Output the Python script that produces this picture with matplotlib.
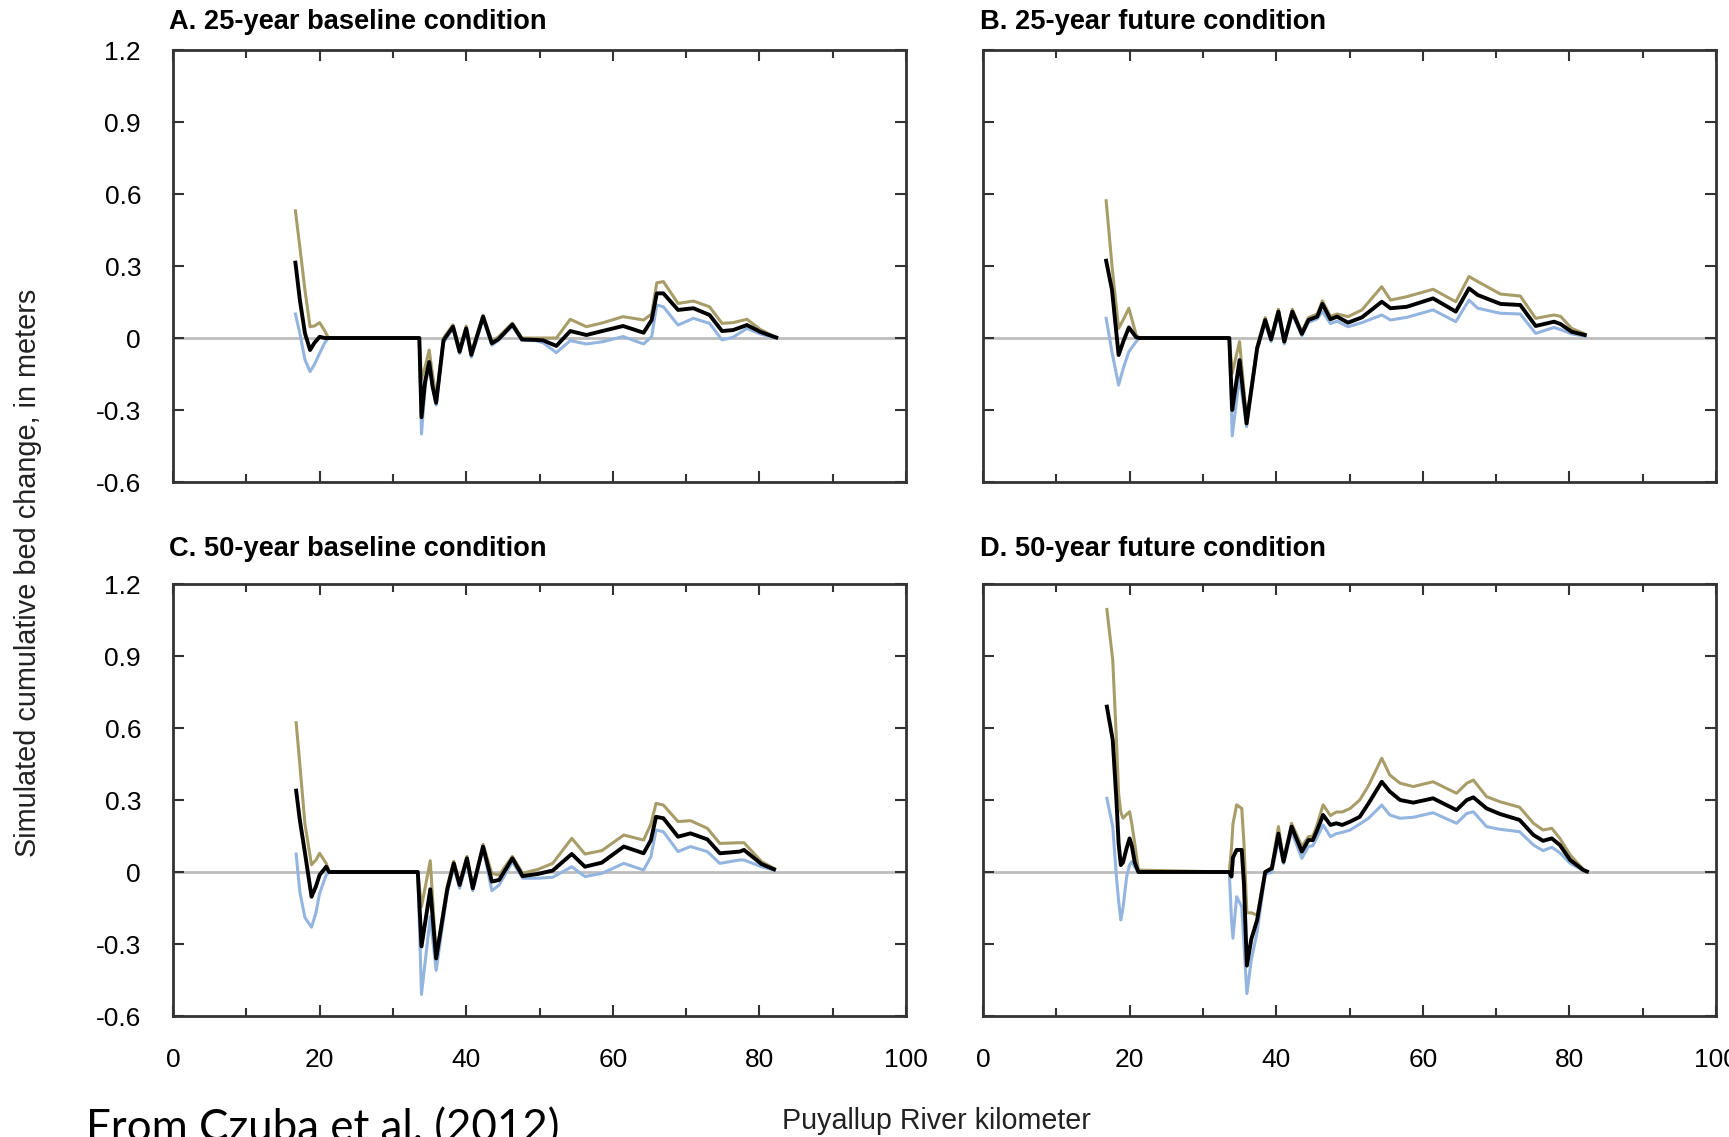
import matplotlib
matplotlib.use("Agg")
import matplotlib.pyplot as plt

plt.rcParams['font.family'] = ['Liberation Sans', 'DejaVu Sans']

# ---- data (river km, bed change in m) ----
km_a = [16.7, 17.3, 18.0, 18.7, 19.3, 20.0, 20.7, 21.2, 33.6, 33.9, 34.4, 34.95, 35.4, 35.9,
        36.9, 38.2, 39.1, 40.0, 40.7, 42.3, 43.5, 44.4, 46.3, 47.6, 49.5, 50.5, 52.3, 54.2,
        56.4, 58.7, 61.4, 64.2, 65.3, 66.0, 66.9, 68.9, 71.0, 73.2, 74.9, 76.4, 78.3, 80.1,
        81.9, 82.3]
gold_a = [0.53, 0.38, 0.2, 0.047, 0.05, 0.064, 0.03, 0.0, 0.0, -0.17, -0.12, -0.05, -0.15, -0.25,
          0.0, 0.055, -0.045, 0.05, -0.06, 0.095, -0.015, 0.005, 0.062, 0.0, 0.0, 0.0, 0.0, 0.078,
          0.047, 0.064, 0.089, 0.075, 0.1, 0.23, 0.235, 0.144, 0.154, 0.13, 0.061, 0.064, 0.078, 0.036,
          0.008, 0.003]
black_a = [0.314, 0.16, 0.02, -0.05, -0.02, 0.005, 0.0, 0.0, 0.0, -0.33, -0.18, -0.1, -0.2, -0.27,
           -0.01, 0.047, -0.057, 0.04, -0.07, 0.089, -0.022, -0.005, 0.056, -0.006, -0.008, -0.01, -0.033, 0.029,
           0.0125, 0.03, 0.05, 0.022, 0.075, 0.186, 0.186, 0.117, 0.124, 0.096, 0.029, 0.033, 0.054, 0.026,
           0.006, 0.002]
blue_a = [0.10, 0.02, -0.09, -0.14, -0.11, -0.064, -0.02, 0.0, 0.0, -0.40, -0.2, -0.11, -0.2, -0.28,
          -0.02, 0.04, -0.065, 0.035, -0.08, 0.08, -0.03, -0.01, 0.05, -0.01, -0.011, -0.02, -0.061, -0.011,
          -0.025, -0.015, 0.006, -0.025, 0.006, 0.1375, 0.13, 0.054, 0.082, 0.061, -0.008, 0.003, 0.04, 0.017,
          0.003, 0.001]

km_b = [16.8, 17.6, 18.5, 19.2, 19.9, 20.9, 21.3, 33.6, 34.0, 35.0, 35.96, 37.4, 38.5, 39.3, 40.3,
        41.1, 42.2, 43.5, 44.4, 45.6, 46.3, 47.4, 48.3, 49.8, 51.7, 54.4, 55.6, 57.8, 61.4, 64.5,
        66.3, 67.5, 70.6, 73.3, 75.4, 77.9, 78.8, 80.3, 82.1]
gold_b = [0.572, 0.30, 0.04, 0.08, 0.124, 0.0125, 0.0, 0.0, -0.147, -0.015, -0.34, -0.035, 0.085, 0.0, 0.12,
          -0.01, 0.12, 0.025, 0.085, 0.1, 0.155, 0.09, 0.1, 0.089, 0.117, 0.214, 0.158, 0.172, 0.203, 0.151,
          0.256, 0.235, 0.183, 0.175, 0.082, 0.096, 0.09, 0.04, 0.017]
black_b = [0.322, 0.20, -0.071, -0.01, 0.044, 0.003, 0.0, 0.0, -0.30, -0.092, -0.356, -0.043, 0.075, -0.006, 0.11,
           -0.015, 0.11, 0.017, 0.075, 0.089, 0.142, 0.078, 0.089, 0.064, 0.086, 0.151, 0.124, 0.13, 0.165, 0.11,
           0.207, 0.179, 0.142, 0.1375, 0.05, 0.068, 0.058, 0.026, 0.0125]
blue_b = [0.082, -0.06, -0.196, -0.12, -0.057, -0.015, 0.0, 0.0, -0.408, -0.16, -0.37, -0.05, 0.065, -0.015, 0.1,
          -0.025, 0.1, 0.01, 0.065, 0.08, 0.11, 0.06, 0.07, 0.047, 0.064, 0.096, 0.075, 0.086, 0.117, 0.068,
          0.158, 0.124, 0.103, 0.1, 0.019, 0.044, 0.035, 0.017, 0.008]

km_c = [16.8, 17.3, 18.0, 18.9, 19.5, 20.0, 20.9, 21.3, 33.4, 33.9, 35.1, 35.9, 37.4, 38.3, 39.1,
        40.1, 40.9, 42.3, 43.5, 44.5, 46.3, 47.7, 49.8, 51.8, 54.4, 56.2, 58.5, 61.5, 64.2, 65.2,
        65.9, 66.9, 68.9, 70.6, 72.9, 74.6, 77.3, 77.9, 80.3, 82.0]
gold_c = [0.622, 0.45, 0.2, 0.03, 0.05, 0.078, 0.036, 0.0, 0.0, -0.144, 0.047, -0.35, -0.06, 0.045, -0.045,
          0.065, -0.06, 0.115, -0.006, -0.0125, 0.065, -0.005, 0.011, 0.036, 0.14, 0.075, 0.089, 0.154, 0.133, 0.2,
          0.286, 0.279, 0.21, 0.214, 0.182, 0.119, 0.122, 0.122, 0.043, 0.015]
black_c = [0.339, 0.217, 0.08, -0.103, -0.06, -0.0125, 0.022, 0.0, 0.0, -0.31, -0.072, -0.36, -0.075, 0.036, -0.054,
           0.057, -0.068, 0.106, -0.04, -0.033, 0.057, -0.017, -0.008, 0.006, 0.075, 0.022, 0.039, 0.106, 0.078, 0.133,
           0.23, 0.224, 0.147, 0.161, 0.136, 0.078, 0.085, 0.092, 0.033, 0.011]
blue_c = [0.075, -0.082, -0.19, -0.23, -0.17, -0.089, -0.0125, 0.0, 0.0, -0.51, -0.186, -0.41, -0.089, 0.022, -0.068,
          0.043, -0.078, 0.1, -0.078, -0.054, 0.043, -0.026, -0.026, -0.022, 0.022, -0.019, -0.006, 0.036, 0.008, 0.064,
          0.175, 0.168, 0.085, 0.106, 0.085, 0.036, 0.05, 0.05, 0.022, 0.008]

km_d = [16.9, 17.7, 18.2, 18.5, 18.8, 19.1, 19.6, 20.0, 20.3, 20.7, 21.2, 33.6, 33.9, 34.1, 34.6,
        35.3, 35.6, 36.0, 36.6, 37.4, 38.5, 39.4, 40.3, 41.0, 42.1, 43.5, 44.4, 45.0, 45.5, 46.4,
        47.4, 48.2, 49.0, 50.1, 51.4, 52.6, 54.4, 55.5, 56.9, 58.7, 61.4, 64.6, 66.0, 66.9, 68.7,
        70.5, 73.2, 75.1, 76.4, 77.6, 78.7, 80.1, 81.9, 82.4]
gold_d = [1.094, 0.883, 0.55, 0.328, 0.25, 0.224, 0.24, 0.251, 0.2, 0.12, 0.008, 0.0, 0.1, 0.2, 0.28,
          0.265, 0.12, -0.17, -0.17, -0.18, 0.0, 0.02, 0.189, 0.05, 0.203, 0.106, 0.147, 0.15, 0.189, 0.28,
          0.235, 0.25, 0.25, 0.265, 0.3, 0.36, 0.474, 0.404, 0.37, 0.356, 0.376, 0.328, 0.37, 0.383, 0.314,
          0.293, 0.27, 0.203, 0.175, 0.182, 0.14, 0.071, 0.011, 0.003]
black_d = [0.689, 0.55, 0.3, 0.12, 0.029, 0.04, 0.1, 0.14, 0.11, 0.04, 0.0, 0.0, -0.019, 0.06, 0.092,
           0.092, -0.05, -0.39, -0.28, -0.2, 0.0, 0.015, 0.16, 0.043, 0.189, 0.085, 0.133, 0.133, 0.168, 0.2375,
           0.196, 0.203, 0.196, 0.21, 0.23, 0.286, 0.376, 0.335, 0.3, 0.289, 0.307, 0.258, 0.3, 0.311, 0.265,
           0.242, 0.217, 0.154, 0.13, 0.14, 0.1125, 0.05, 0.008, 0.002]
blue_d = [0.307, 0.189, -0.019, -0.12, -0.2, -0.15, -0.019, 0.03, 0.043, 0.02, 0.0, 0.0, -0.2, -0.276, -0.103,
          -0.144, -0.3, -0.507, -0.367, -0.25, -0.01, 0.0, 0.133, 0.036, 0.168, 0.057, 0.106, 0.11, 0.14, 0.196,
          0.147, 0.16, 0.165, 0.175, 0.2, 0.224, 0.279, 0.2375, 0.224, 0.228, 0.247, 0.203, 0.244, 0.251, 0.189,
          0.178, 0.168, 0.1125, 0.089, 0.103, 0.08, 0.036, 0.006, 0.001]

titles = ['A. 25-year baseline condition', 'B. 25-year future condition',
          'C. 50-year baseline condition', 'D. 50-year future condition']
panels = [(km_a, gold_a, black_a, blue_a), (km_b, gold_b, black_b, blue_b),
          (km_c, gold_c, black_c, blue_c), (km_d, gold_d, black_d, blue_d)]

y_ticks = [-0.6, -0.3, 0, 0.3, 0.6, 0.9, 1.2]
y_ticklabels = ['-0.6', '-0.3', '0', '0.3', '0.6', '0.9', '1.2']
x_major = [0, 20, 40, 60, 80, 100]
x_minor = [10, 30, 50, 70, 90]

W, H = 1729, 1137
fig = plt.figure(figsize=(W / 100, H / 100), dpi=100)


def box(x0, y0, x1, y1):
    # pixel box (top-left origin) -> figure fraction rect
    return [x0 / W, 1 - y1 / H, (x1 - x0) / W, (y1 - y0) / H]


rects = [box(173, 50, 906, 482), box(983, 50, 1716, 482),
         box(173, 584, 906, 1016), box(983, 584, 1716, 1016)]

GOLD = '#a89d68'
BLUE = '#93b5e0'

for i, (rect, (km, gold, black, blue)) in enumerate(zip(rects, panels)):
    ax = fig.add_axes(rect)
    ax.axhline(0, color='#bdbdbd', lw=2.0, zorder=1)
    ax.plot(km, blue, color=BLUE, lw=2.2, zorder=2)
    ax.plot(km, gold, color=GOLD, lw=2.2, zorder=3)
    ax.plot(km, black, color='black', lw=2.8, zorder=4)

    ax.set_xlim(0, 100)
    ax.set_ylim(-0.6, 1.2)
    ax.set_xticks(x_major)
    ax.set_xticks(x_minor, minor=True)
    ax.set_yticks(y_ticks, y_ticklabels)
    ax.tick_params(which='both', direction='in', top=True, right=True, width=1.5, color='#333333')
    ax.tick_params(which='major', length=8, labelsize=19, pad=23)
    ax.tick_params(which='minor', length=6)
    for s in ax.spines.values():
        s.set_linewidth(2.0)
        s.set_color('#333333')

    if i % 2 == 1:
        ax.tick_params(labelleft=False)
    if i < 2:
        ax.tick_params(labelbottom=False)

    ty = 22 if i < 2 else 549
    tx = 169 if i % 2 == 0 else 980
    fig.text(tx / W, 1 - ty / H, titles[i], fontsize=19.6, fontweight='bold',
             ha='left', va='center')

fig.text(28 / W, 1 - 573 / H, 'Simulated cumulative bed change, in meters',
         rotation=90, fontsize=20.8, ha='center', va='center', color='#222222')
fig.text(936 / W, 1 - 1121 / H, 'Puyallup River kilometer', fontsize=20.6,
         ha='center', va='center', color='#222222')
fig.text(86 / W, 1 - 1129 / H, 'From Czuba et al. (2012)', fontsize=31.6,
         family=['Lato', 'DejaVu Sans'], ha='left', va='center')

fig.savefig('out.png', dpi=100)
